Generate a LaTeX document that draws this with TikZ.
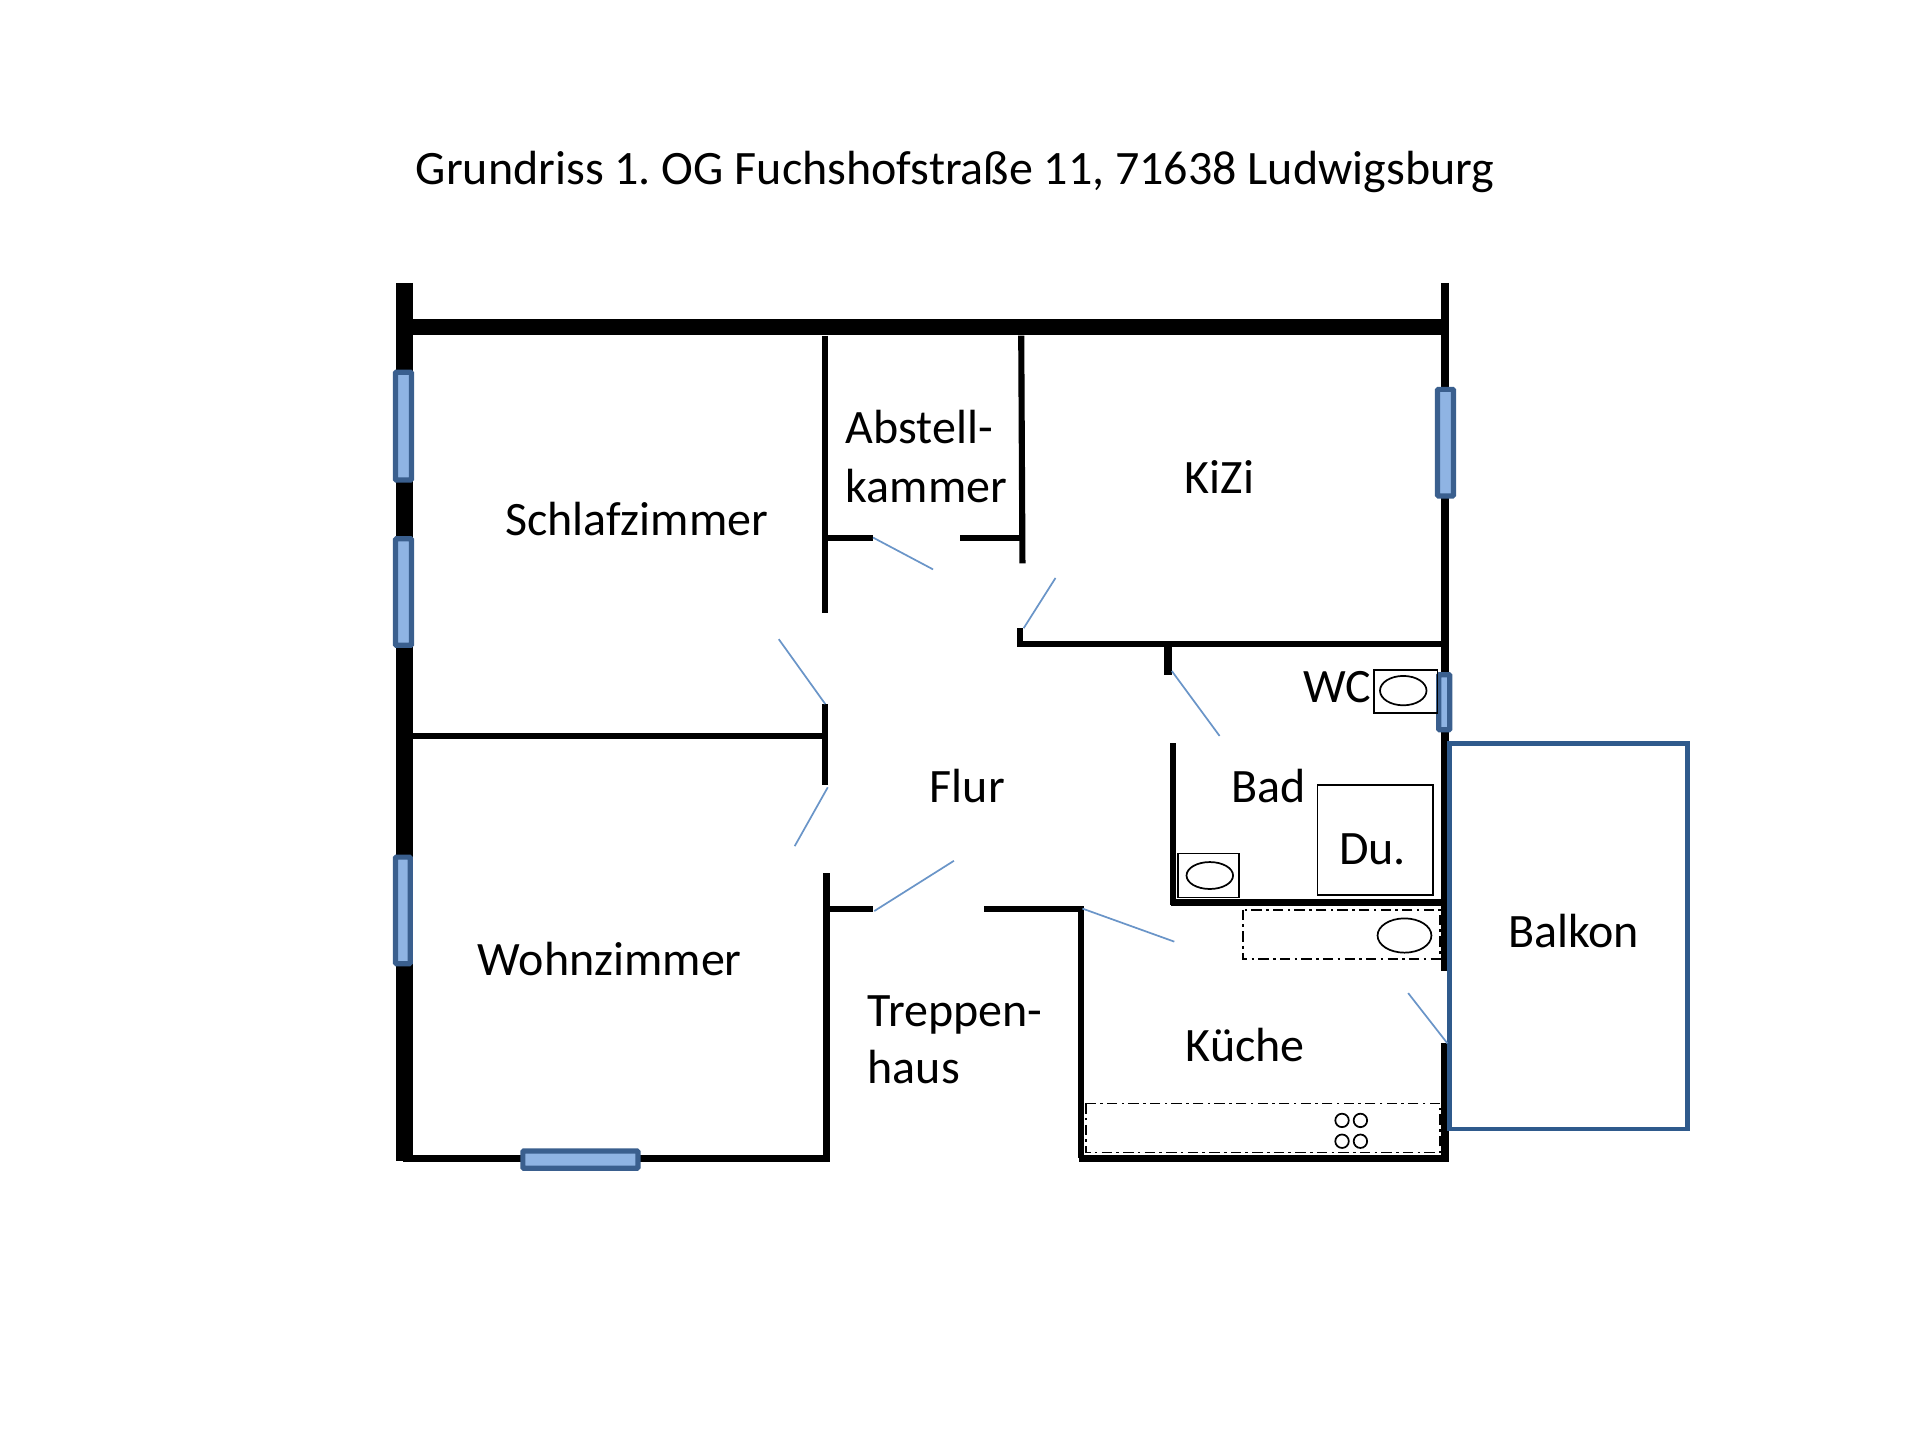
\documentclass[tikz,border=0pt]{standalone}
\usepackage{fontspec}
\setmainfont{Carlito}
\definecolor{wincol}{HTML}{8FB4E3}
\definecolor{winedge}{HTML}{3A5F8E}
\definecolor{doorcol}{HTML}{6A95C8}
\definecolor{balkcol}{HTML}{2F5A8C}
\tikzset{
    wall/.style={line width=#1*0.2845pt, black},
    wall/.default=5,
    door/.style={line width=0.4pt, doorcol},
    pane/.style={fill=wincol, draw=winedge, line width=1.2pt, rounded corners=0.2pt},
    fixture/.style={line width=0.4pt, black},
    counter/.style={line width=0.35pt, black, dash pattern=on 2.4pt off 1pt on 0.6pt off 1pt},
    room/.style={anchor=base, font=\fontsize{11.15}{13}\selectfont, inner sep=0pt},
}
\begin{document}
\frenchspacing
\begin{tikzpicture}[x=0.1mm, y=-0.1mm]
    \useasboundingbox (0,0) rectangle (1568,1176);
    % outer walls
    \draw[wall=14] (330,231) -- (330,948);
    \draw[wall=13] (336,267) -- (1182,267);
    \draw[wall=6] (1180,231) -- (1180,793);
    \draw[wall=6] (1180,852) -- (1180,947);
    \draw[wall=6] (329,946) -- (678,946);
    \draw[wall=6] (881,946) -- (1183,946);
    % inner walls
    \draw[wall] (674,274) -- (674,501);
    \draw[wall] (834,274) -- (835,460);
    \draw[wall] (676,439) -- (713,439);
    \draw[wall] (784,439) -- (834,439);
    \draw[wall] (833,513) -- (833,528);
    \draw[wall] (831,526) -- (1180,526);
    \draw[wall=6] (954,526) -- (954,551);
    \draw[wall] (958,607) -- (958,739);
    \draw[wall=6] (956,737) -- (1180,737);
    \draw[wall] (674,575) -- (674,641);
    \draw[wall] (330,601) -- (674,601);
    \draw[wall] (675,713) -- (675,946);
    \draw[wall] (676,742) -- (713,742);
    \draw[wall] (804,742) -- (885,742);
    \draw[wall] (883,742) -- (883,946);
    % windows
    \draw[pane] (323,304) rectangle (336,392);
    \draw[pane] (323,440) rectangle (336,527);
    \draw[pane] (323,700) rectangle (335,787);
    \draw[pane] (427,940) rectangle (521,954);
    \draw[pane] (1174,318) rectangle (1187,405);
    \draw[pane] (1175,551) rectangle (1184,596);
    % balcony
    \draw[line width=1.1pt, balkcol] (1184,607) rectangle (1378,922);
    % doors
    \draw[door] (713,439) -- (762,465);
    \draw[door] (836,513) -- (862,472);
    \draw[door] (674,575) -- (636,522);
    \draw[door] (676,643) -- (649,691);
    \draw[door] (714,744) -- (779,703);
    \draw[door] (884,742) -- (959,769);
    \draw[door] (957,548) -- (996,601);
    \draw[door] (1182,852) -- (1150,811);
    % bathroom
    \draw[fixture] (1122,547) rectangle (1174,582);
    \draw[fixture] (1146,564) ellipse [x radius=19, y radius=12];
    \draw[fixture] (1076,641) rectangle (1170,731);
    \draw[fixture] (962,697) rectangle (1012,733);
    \draw[fixture] (988,715) ellipse [x radius=19, y radius=11];
    % kitchen
    \draw[counter] (1015,743) rectangle (1176,783);
    \draw[fixture] (1147,764) ellipse [x radius=22, y radius=14];
    \draw[counter] (887,901) rectangle (1176,941);
    \foreach \bx in {1096,1111}
        \foreach \by in {915,932}
            \draw[fixture] (\bx,\by) circle [radius=5.5];
    % labels
    \node[room] (titel) at (780,151) {Grundriss 1. OG Fuchshofstraße 11, 71638 Ludwigsburg};
    \node[room] (schlaf) at (520,437) {Schlafzimmer};
    \node[room, anchor=base west] (abst) at (690,362) {Abstell-};
    \node[room, anchor=base west] (kammer) at (690,410) {kammer};
    \node[room] (kizi) at (996,403) {KiZi};
    \node[room] (wc) at (1092,574) {WC};
    \node[room] (bad) at (1036,655) {Bad};
    \node[room] (du) at (1121,706) {Du.};
    \node[room] (flur) at (790,655) {Flur};
    \node[room] (balkon) at (1285,774) {Balkon};
    \node[room] (wohn) at (498,797) {Wohnzimmer};
    \node[room, anchor=base west] (trepp) at (708,838) {Treppen-};
    \node[room, anchor=base west] (haus) at (708,885) {haus};
    \node[room] (kueche) at (1017,867) {Küche};
\end{tikzpicture}
\end{document}
